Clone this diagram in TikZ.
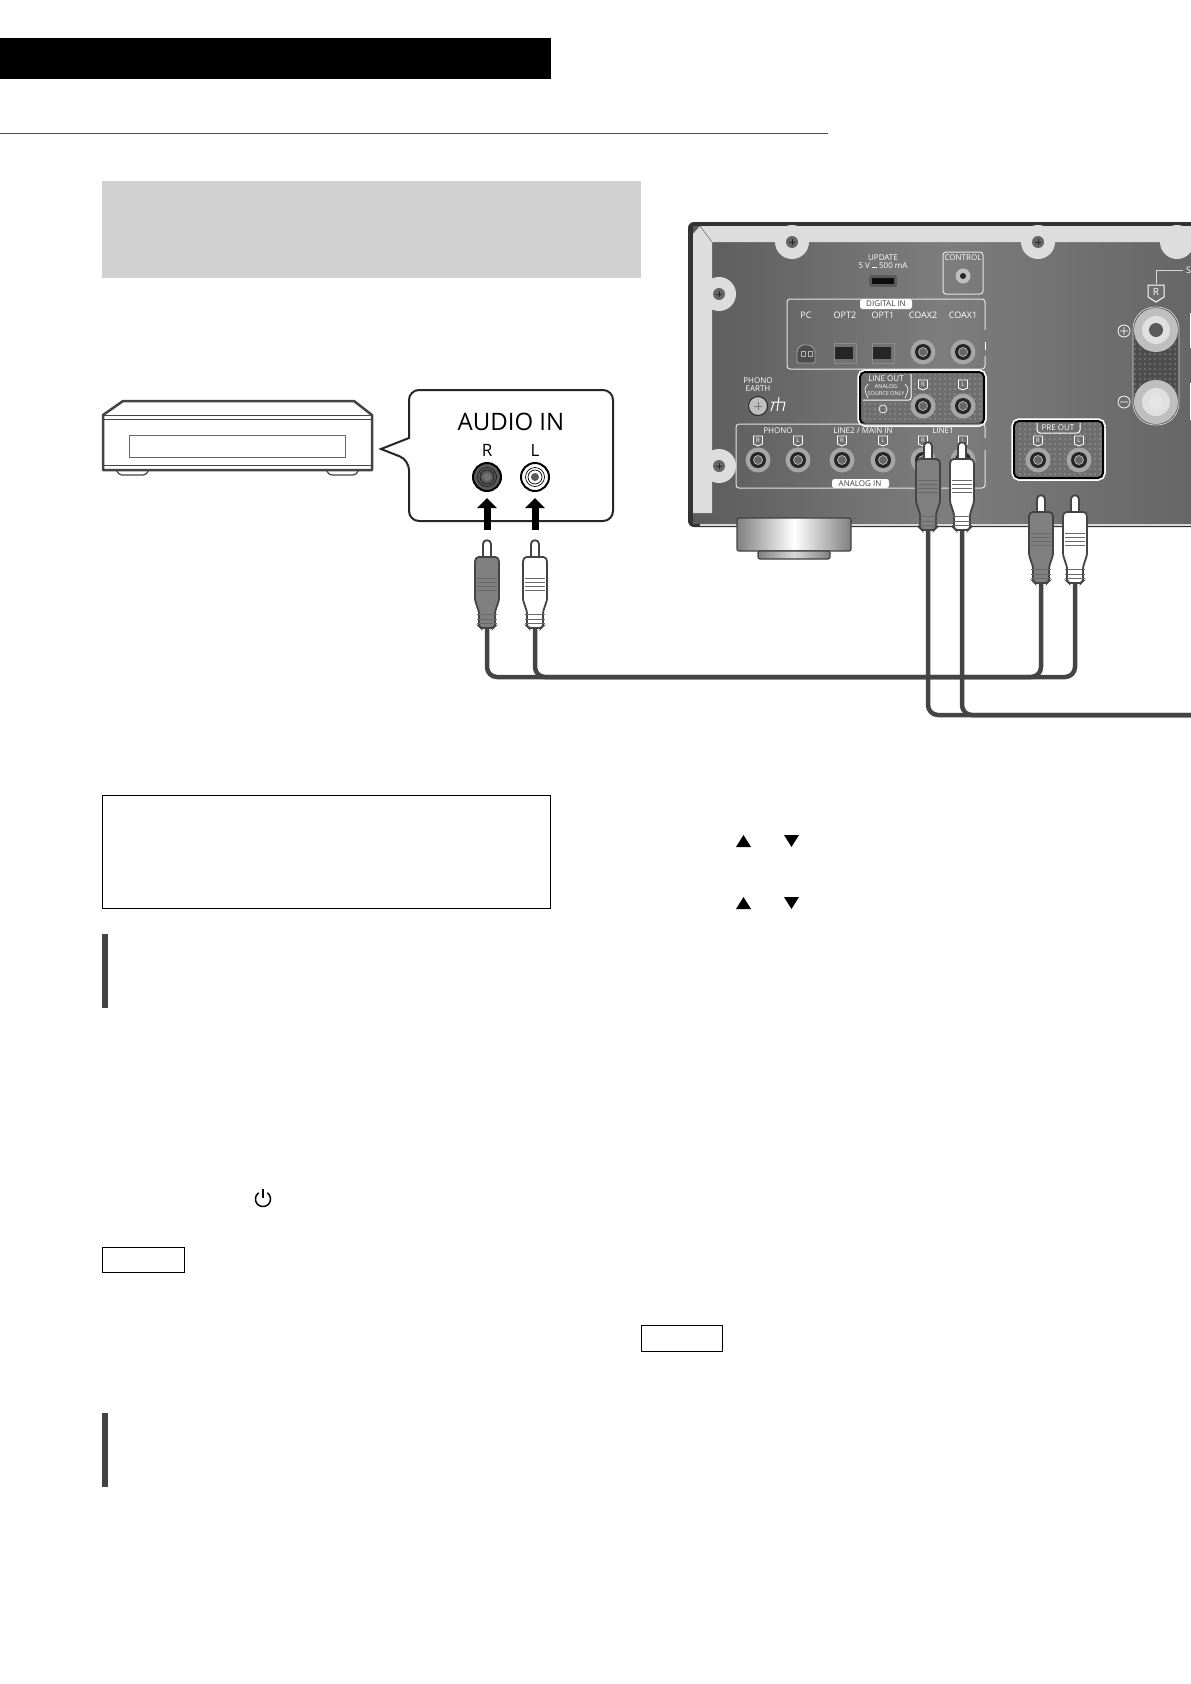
\documentclass[tikz,border=0pt]{standalone}
\usepackage{fontspec}
\setmainfont{Open Sans}
\usetikzlibrary{arrows.meta,patterns.meta}
\definecolor{panelgray}{HTML}{6E6E6E}
\definecolor{framegray}{HTML}{DDDDDD}
\definecolor{wiregray}{HTML}{444444}
\tikzset{
	paneltext/.style={text=white,inner sep=0pt,font=\fontsize{8}{8}\selectfont},
	tabtext/.style={text=black!75,inner sep=0pt,font=\fontsize{8}{8}\selectfont},
	panelline/.style={draw=white!90!black,line width=1pt,rounded corners=3pt},
	dotted panel/.style={pattern={Dots[distance=5pt,radius=.7pt]},pattern color=white!80!black},
	cable/.style={draw=wiregray,line width=4.5pt,rounded corners=10pt},
	jackarrow/.style={-{Triangle[length=10pt,width=19pt]},line width=7pt,shorten >=6pt,shorten <=10pt},
	pics/rearjack/.style={code={
		\fill[black!35] (0,0) circle (12.5pt);
		\fill[black!85] (0,0) circle (8pt);
		\draw[white!70!black,line width=.8pt,fill=black!60] (0,0) circle (4.5pt);
	}},
	pics/chtag/.style={code={
		\draw[white,line width=.8pt,fill=panelgray] (-4.5,-5)--(4.5,-5)--(4.5,3)--(0,5)--(-4.5,3)--cycle;
		\node[paneltext,font=\fontsize{6}{6}\selectfont] (-lbl) at (0,-.5) {#1};
	}},
	pics/rcaplug/.style={code={
		\draw[wiregray,line width=1.8pt,fill=white] (-4,18)--(-4,4) .. controls (-4,-1) and (4,-1) .. (4,4)--(4,18);
		\draw[wiregray,line width=1.8pt,fill=#1,rounded corners=1.5pt] (-10,17)--(10,17)--(12,20)--(12,60)--(8,72)--(8,86)--(6,88)--(-6,88)--(-8,86)--(-8,72)--(-12,60)--(-12,20)--cycle;
		\foreach \y in {38,42,46,50,74,79,83} \draw[wiregray!80,line width=.8pt] (-10,\y)--(10,\y);
		\coordinate (-tip) at (0,0);
		\coordinate (-end) at (0,88);
	}}
}
\begin{document}
\begin{tikzpicture}[x=1pt,y=-1pt]
	\useasboundingbox (0,0) rectangle (1191,1684);
	% page furniture
	\fill[black] (0,38) rectangle (551,79);
	\draw[black!70,line width=1pt] (0,133)--(828,133);
	\fill[black!18] (102,180.5) rectangle (641,278);
	\draw[black,line width=1pt] (102,795) rectangle (550.5,908);
	\fill[wiregray] (102,934) rectangle (108,1008);
	\fill[wiregray] (102,1413) rectangle (108,1487);
	\draw[black,line width=1pt] (102,1247) rectangle (184.5,1272);
	\draw[black,line width=1pt] (641,1325) rectangle (722.5,1351);
	\foreach \y in {835,897}{
		\fill[black] (736,\y+12)--(751,\y+12)--(743.5,\y)--cycle;
		\fill[black] (784,\y)--(799,\y)--(791.5,\y+12)--cycle;
	}
	\draw[black,line width=1.5pt] plot[smooth,domain=35:325,samples=24] ({263+7.5*sin(\x)},{1199-7.5*cos(\x)});
	\draw[black,line width=1.5pt] (263,1189)--(263,1198);
	% source player
	\draw[wiregray,line width=1.2pt,fill=white,rounded corners=4pt] (116,468)--(118,475)--(147,475)--(149,468);
	\draw[wiregray,line width=1.2pt,fill=white,rounded corners=4pt] (326,468)--(328,475)--(357,475)--(359,468);
	\draw[wiregray,line width=2.5pt,fill=white,line join=round] (103,470)--(103,415)--(123,401)--(354,401)--(372,415)--(372,470)--cycle;
	\draw[wiregray,line width=1pt] (103,415)--(372,415) (103,419)--(372,419) (103,465)--(372,465);
	\draw[black!60,line width=1pt] (129,435) rectangle (345.5,457);
	% callout
	\draw[black!85,line width=2pt,fill=white] (381,449)--(409,438) [rounded corners=10pt] --(409,390)--(613,390)--(613,521)--(409,521)--(409,460) [sharp corners] --cycle;
	\node[inner sep=0pt,font=\fontsize{24}{24}\selectfont] (audioin) at (511,422) {AUDIO IN};
	\node[inner sep=0pt,font=\fontsize{17}{17}\selectfont] (rlabel) at (487,450) {R};
	\node[inner sep=0pt,font=\fontsize{17}{17}\selectfont] (llabel) at (535,450) {L};
	\node[circle,inner sep=0pt,minimum size=28pt,fill=black!65,draw=black,line width=2pt] (injackr) at (487,477) {};
	\draw[black!90,line width=.7pt] (487,477) circle (9.5pt) (487,477) circle (7pt);
	\fill[black!55] (487,477) circle (4pt);
	\node[circle,inner sep=0pt,minimum size=28pt,fill=white,draw=black,line width=2pt] (injackl) at (535,477) {};
	\draw[black,line width=.7pt] (535,477) circle (9.5pt) (535,477) circle (7pt);
	\fill[black!65] (535,477) circle (4pt);
	% rear panel of the unit
	\fill[black!80,rounded corners=6pt] (688,222) rectangle (1200,527);
	\fill[left color=black!64,right color=black!60,middle color=black!51] (693,226) rectangle (1191,523);
	\fill[black!15] (700,523.5) rectangle (1191,526);
	\fill[framegray] (693,234)--(700,226)--(1191,226)--(1191,242)--(712,242)--(712,513)--(693,513)--cycle;
	\draw[black!55,line width=.6pt] (700,226)--(712,242);
	\foreach \x/\y in {792/242,1038/242,719/294,719/466} {
		\fill[framegray] (\x,\y) circle (17pt);
		\fill[black!60] (\x,\y) circle (6pt);
		\draw[black!85,line width=.7pt] (\x-3,\y)--(\x+3,\y) (\x,\y-3)--(\x,\y+3);
	}
	\fill[framegray] (1177,242) circle (17pt);
	\fill[white] (1190,313) rectangle (1191,348) (1190,383) rectangle (1191,420);
	% top row
	\node[paneltext] (updatelbl) at (883,258) {UPDATE};
	\node[paneltext] (usblbl) at (883,266) {5 V \rule[1.5pt]{5pt}{.8pt} 500 mA};
	\draw[black!50,fill=black!65,rounded corners=1pt] (869,275) rectangle (897,287);
	\fill[black!95] (872,278) rectangle (894,284);
	\draw[panelline] (943,252) rectangle (983,294);
	\node[paneltext] (controllbl) at (963,258) {CONTROL};
	\fill[black!25] (963,276) circle (7.5pt);
	\fill[black!85] (963,276) circle (3pt);
	% digital in
	\draw[panelline] (985,330)--(985,299)--(787,299)--(787,369)--(985,369)--(985,356);
	\draw[white,line width=1pt] (985,342)--(985,350);
	\fill[white,rounded corners=2.5pt] (860,299) rectangle (912,309);
	\node[tabtext] (digitallbl) at (886,304) {DIGITAL IN};
	\foreach \x/\t in {806/PC,845/OPT2,883/OPT1,923/COAX2,963/COAX1}
		\node[paneltext,font=\fontsize{9}{9}\selectfont] (dig\t) at (\x,315) {\t};
	\draw[black!35,fill=black!70,line width=.8pt,rounded corners=2pt] (797,363)--(797,350)--(801,345)--(811,345)--(815,350)--(815,363)--cycle;
	\draw[black!30,line width=.6pt] (801,351) rectangle (805,356) (808,351) rectangle (812,356);
	\foreach \x in {845,883} {
		\draw[black!45,fill=black!55,line width=.8pt] (\x-11,343) rectangle (\x+11,363);
		\fill[black!85] (\x-10,347) rectangle (\x+8,359);
	}
	\foreach \x in {923,963} \pic at (\x,352) {rearjack};
	% line out
	\draw[white,line width=5.5pt,rounded corners=5pt] (860,372) rectangle (984,424);
	\fill[panelgray,rounded corners=5pt] (860,372) rectangle (984,424);
	\path[dotted panel,rounded corners=5pt] (860,372) rectangle (984,424);
	\draw[black,line width=2pt,rounded corners=5pt] (860,372) rectangle (984,424);
	\fill[panelgray] (863,375) rectangle (911,400);
	\draw[white,line width=1pt,rounded corners=2pt] (911,374)--(911,400)--(863,400);
	\node[paneltext] (lineoutlbl) at (886,379) {LINE OUT};
	\node[paneltext,font=\fontsize{5.5}{5}\selectfont] (analoglbl) at (886,387) {ANALOG};
	\node[paneltext,font=\fontsize{5.5}{5}\selectfont] (sourcelbl) at (886,394) {SOURCE ONLY};
	\draw[white,line width=.6pt] (868,384) .. controls (864,389) .. (868,398) (905,384) .. controls (909,389) .. (905,398);
	\draw[white,line width=.7pt] (883,409) circle (4pt);
	\pic (outtagr) at (923,385) {chtag=R};
	\pic (outtagl) at (963,385) {chtag=L};
	\foreach \x in {923,963} \pic at (\x,406) {rearjack};
	% phono earth
	\node[paneltext] (phonolbl) at (758,381) {PHONO};
	\node[paneltext] (earthlbl) at (758,389) {EARTH};
	\draw[black!85,fill=black!25,line width=1pt] (758,406) circle (9.5pt);
	\draw[black!55,line width=.7pt] (754,406)--(762,406) (758,402)--(758,410);
	\draw[white,line width=1pt] (771,402)--(785,402) (774,402)--(771,411) (779,397)--(777,411) (785,402)--(783,411);
	% analog in
	\draw[panelline] (985,438)--(985,424)--(736,424)--(736,488)--(985,488)--(985,450);
	\fill[white,rounded corners=2.5pt] (832,479) rectangle (889,488);
	\node[tabtext] (analoginlbl) at (860,484) {ANALOG IN};
	\node[paneltext] (phonoinlbl) at (778,431) {PHONO};
	\node[paneltext] (line2lbl) at (863,431) {LINE2 / MAIN IN};
	\node[paneltext] (line1lbl) at (943,431) {LINE1};
	\foreach \x/\t/\n in {758/R/a,798/L/b,842/R/c,883/L/d,923/R/e,963/L/f}
		\pic (intag\n) at (\x,441) {chtag=\t};
	\foreach \x in {758,798,842,883,923,963} \pic at (\x,460) {rearjack};
	% pre out
	\draw[white,line width=5.5pt,rounded corners=5pt] (1014,421) rectangle (1103,478);
	\fill[panelgray,rounded corners=5pt] (1014,421) rectangle (1103,478);
	\path[dotted panel,rounded corners=5pt] (1014,421) rectangle (1103,478);
	\draw[black,line width=2pt,rounded corners=5pt] (1014,421) rectangle (1103,478);
	\draw[white,fill=panelgray,line width=1pt,rounded corners=3pt] (1037,423)--(1037,433)--(1080,433)--(1080,423);
	\node[paneltext] (preoutlbl) at (1058,428) {PRE OUT};
	\pic (pretagr) at (1038,441) {chtag=R};
	\pic (pretagl) at (1079,441) {chtag=L};
	\foreach \x in {1038,1079} \pic at (\x,460) {rearjack};
	% speaker terminals
	\draw[white!85!black,line width=1pt] (1156,284)--(1156,270)--(1183,270);
	\node[paneltext,anchor=west,font=\fontsize{9}{9}\selectfont] (speakerlbl) at (1186,270) {S};
	\draw[white,line width=1pt,fill=panelgray] (1148,285)--(1164,285)--(1164,297)--(1156,302)--(1148,297)--cycle;
	\node[paneltext,font=\fontsize{10}{10}\selectfont] (spktag) at (1156,292) {R};
	\fill[panelgray!70!black,rounded corners=22pt] (1133,307) rectangle (1179,425);
	\path[dotted panel,rounded corners=22pt] (1133,307) rectangle (1179,425);
	\draw[white!85!black,line width=.7pt,rounded corners=22pt] (1133,307) rectangle (1179,425);
	\foreach \y/\c in {330/black!65,402/white!90!black} {
		\fill[black!25] (1156,\y) circle (22pt);
		\fill[black!12] (1156,\y) circle (14pt);
		\fill[\c] (1156,\y) circle (7pt);
	}
	\draw[white,line width=.8pt] (1124,331) circle (6pt) (1120,331)--(1128,331) (1124,327)--(1124,335);
	\draw[white,line width=.8pt] (1124,402) circle (6pt) (1120,402)--(1128,402);
	% foot
	\draw[black!75,line width=1.2pt,left color=black!50,right color=black!50,middle color=white,rounded corners=2pt] (737,518) rectangle (851,551);
	\draw[black!75,line width=1.2pt,left color=black!50,right color=black!50,middle color=black!15,rounded corners=2pt] (758,551) rectangle (830,559);
	% cables and plugs
	\coordinate (busa) at (700,677);
	\coordinate (busb) at (1200,715);
	\pic (inr) at (487,540) {rcaplug=black!50};
	\pic (inl) at (535,540) {rcaplug=white};
	\pic (prer) at (1041,495) {rcaplug=black!50};
	\pic (prel) at (1075,495) {rcaplug=white};
	\pic (liner) at (928,442) {rcaplug=black!50};
	\pic (linel) at (962,442) {rcaplug=white};
	\draw[cable] (inr-end)--(inr-end |- busa)--(prel-end |- busa)--(prel-end);
	\draw[cable] (inl-end)--(inl-end |- busa)--(prer-end |- busa)--(prer-end);
	\draw[cable] (liner-end)--(liner-end |- busb)--(busb);
	\draw[cable] (linel-end)--(linel-end |- busb)--(busb);
	\draw[jackarrow] (inr-tip)--(injackr);
	\draw[jackarrow] (inl-tip)--(injackl);
\end{tikzpicture}
\end{document}
